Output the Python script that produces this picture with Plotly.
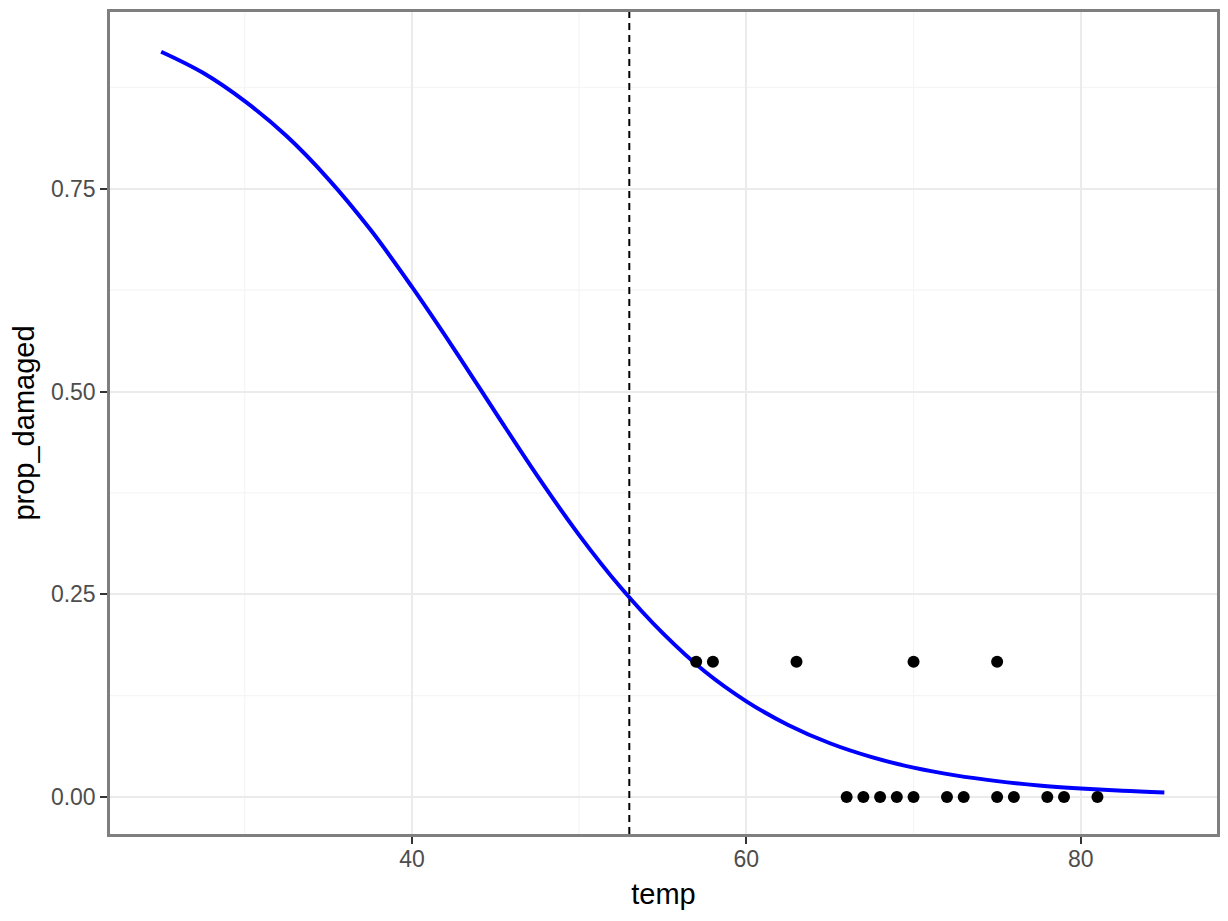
import plotly.graph_objects as go

# observed points
temp = [57, 58, 63, 70, 75,
        66, 67, 68, 69, 70, 72, 73, 75, 76, 78, 79, 81]
prop_damaged = [1/6, 1/6, 1/6, 1/6, 1/6,
                0, 0, 0, 0, 0, 0, 0, 0, 0, 0, 0, 0]

# fitted curve
curve_temp = [25, 27.5, 30, 32.5, 35, 37.5, 40, 42.5, 45, 47.5, 50, 52.5, 55,
              57.5, 60, 62.5, 65, 67.5, 70, 72.5, 75, 77.5, 80, 82.5, 85]
curve_prob = [0.919, 0.893, 0.858, 0.815, 0.762, 0.700, 0.629, 0.553, 0.474,
              0.396, 0.323, 0.258, 0.202, 0.155, 0.118, 0.0889, 0.0663, 0.0492,
              0.0362, 0.0267, 0.0196, 0.0143, 0.0105, 0.0076, 0.0056]

threshold_temp = 53

x_ticks = [40, 60, 80]
y_ticks = [0, 0.25, 0.5, 0.75]
y_tick_labels = ["0.00", "0.25", "0.50", "0.75"]
x_minor = [30, 50, 70]
y_minor = [0.125, 0.375, 0.625, 0.875]

x_range = [21.94, 88.15]
y_range = [-0.0456, 0.968]

FONT = "Liberation Sans, Arial, Helvetica, sans-serif"

fig = go.Figure()

for xm in x_minor:
    fig.add_shape(type="line", x0=xm, x1=xm, y0=0, y1=1, xref="x", yref="paper",
                  line=dict(color="#f5f5f5", width=1.2), layer="below")
for ym in y_minor:
    fig.add_shape(type="line", y0=ym, y1=ym, x0=0, x1=1, yref="y", xref="paper",
                  line=dict(color="#f5f5f5", width=1.2), layer="below")

fig.add_trace(go.Scatter(x=curve_temp, y=curve_prob, mode="lines",
                         line=dict(color="#0000ff", width=4, shape="spline"),
                         showlegend=False, hoverinfo="skip"))
fig.add_trace(go.Scatter(x=temp, y=prop_damaged, mode="markers",
                         marker=dict(color="black", size=12),
                         showlegend=False))

fig.add_shape(type="line", x0=threshold_temp, x1=threshold_temp, y0=0, y1=1,
              xref="x", yref="paper", line=dict(color="black", width=2, dash="7px,5px"))

axis_common = dict(showline=True, linecolor="#7f7f7f", linewidth=2.5, mirror=True,
                   ticks="outside", ticklen=7, tickcolor="#333333", tickwidth=2.2,
                   gridcolor="#ebebeb", gridwidth=2.2, zeroline=False,
                   tickfont=dict(family=FONT, size=23, color="#4d4d4d"))

fig.update_xaxes(range=x_range, tickvals=x_ticks, ticklabelstandoff=-4,
                 title=dict(text="temp", font=dict(family=FONT, size=29, color="black"),
                            standoff=13),
                 **axis_common)
fig.update_yaxes(range=y_range, tickvals=y_ticks, ticktext=y_tick_labels,
                 title=dict(text="prop_damaged", font=dict(family=FONT, size=29, color="black"),
                            standoff=10),
                 **axis_common)

fig.update_layout(width=1212, height=905, plot_bgcolor="white", paper_bgcolor="white",
                  margin=dict(l=102, r=3, t=4, b=79, autoexpand=False), showlegend=False)

fig.write_html("out.html")
